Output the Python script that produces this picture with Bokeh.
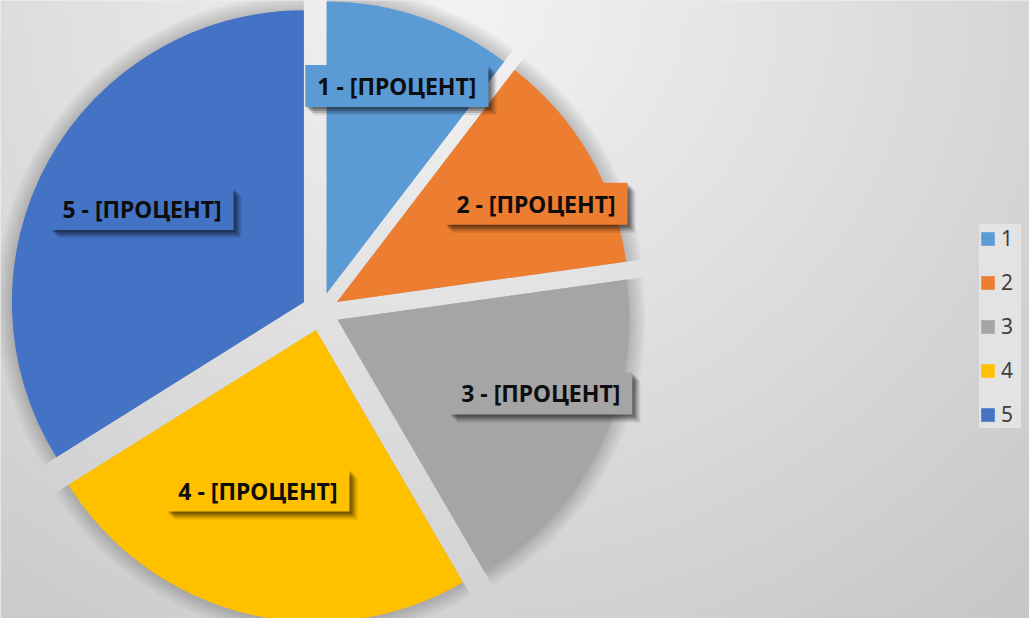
import numpy as np
from bokeh.plotting import figure
from bokeh.models import ColumnDataSource, Label, Legend, LegendItem, Range1d
from bokeh.embed import file_html
from bokeh.resources import INLINE

# ---- data ----
categories = ["1", "2", "3", "4", "5"]
values = [10.4, 12.4, 18.8, 24.5, 33.9]
colors = ["#5B9BD5", "#ED7D31", "#A5A5A5", "#FFC000", "#4472C4"]
label_texts = [f"{c} - [ПРОЦЕНТ]" for c in categories]

# ---- layout / style parameters ----
W, H = 1029, 618
REF_H = 618
PIE_CX, PIE_CY_REF, PIE_R, EXPLODE = 320, 311, 292, 19
label_r_frac = [0.75, 0.76, 0.74, 0.585, 0.64]
label_theta_shift = [0, 4, -6, 6, 1]
LABEL_FONT = "Noto Sans"
LABEL_SIZE = "23px"
LABEL_PAD = (12, 5)
SHADOW_STEPS = [(8, 0.10), (6, 0.16), (4, 0.22), (2, 0.22)]


def up(yref):
    return REF_H - yref


p = figure(width=W, height=H, x_range=Range1d(0, W),
           y_range=Range1d(0, H),
           x_axis_type=None, y_axis_type=None,
           output_backend="svg", toolbar_location=None, min_border=0)
p.grid.visible = False
p.outline_line_color = None
p.background_fill_color = "#dedede"
p.border_fill_color = "#dedede"

# ---- background radial gradient ----
xs = np.arange(W) + 0.5
yup = np.arange(H) + 0.5
X, Yup = np.meshgrid(xs, yup)
Yref = REF_H - Yup
t = np.sqrt(((X - 450) / 890.0) ** 2 + (Yref / 835.0) ** 2)
t = np.clip(t, 0, 1.1)
v = np.clip(244 - 46 * t, 0, 255).astype(np.uint32)
img = (255 << 24) | (v << 16) | (v << 8) | v
p.image_rgba(image=[img.astype(np.uint32)], x=0, y=0, dw=W, dh=H)

# ---- pie geometry from values ----
vals = np.array(values, dtype=float)
frac = vals / vals.sum()
ends = np.cumsum(frac) * 360.0
starts = ends - frac * 360.0
mids = (starts + ends) / 2.0
cy = up(PIE_CY_REF)
wx = PIE_CX + EXPLODE * np.sin(np.radians(mids))
wy = cy + EXPLODE * np.cos(np.radians(mids))
sa = np.pi / 2 - np.radians(starts)
ea = np.pi / 2 - np.radians(ends)

src = ColumnDataSource(dict(x=wx, y=wy, sa=sa, ea=ea, color=colors, cat=categories))

# soft shadow halo
for k in range(1, 9):
    p.wedge(x="x", y="y", radius=PIE_R + 2 * k, start_angle="sa", end_angle="ea",
            direction="clock", source=src, fill_color="black", fill_alpha=0.022,
            line_color=None)

pie = p.wedge(x="x", y="y", radius=PIE_R, start_angle="sa", end_angle="ea",
              direction="clock", source=src, fill_color="color", line_color=None)

# ---- data labels ----
for i in range(len(values)):
    th = np.radians(mids[i] + label_theta_shift[i])
    rr = label_r_frac[i] * PIE_R
    lx = wx[i] + rr * np.sin(th)
    ly = wy[i] + rr * np.cos(th)
    for (o, a) in SHADOW_STEPS:
        p.add_layout(Label(x=lx + o, y=ly - o, text=label_texts[i],
                           text_align="center", text_baseline="middle",
                           text_font=LABEL_FONT, text_font_style="bold",
                           text_font_size=LABEL_SIZE,
                           text_color="black", text_alpha=a,
                           background_fill_color="black", background_fill_alpha=a,
                           padding=LABEL_PAD))
    p.add_layout(Label(x=lx, y=ly, text=label_texts[i],
                       text_align="center", text_baseline="middle",
                       text_font=LABEL_FONT, text_font_style="bold",
                       text_font_size=LABEL_SIZE, text_color="#0d0d0d",
                       background_fill_color=colors[i], background_fill_alpha=1,
                       padding=LABEL_PAD))

# ---- legend ----
items = [LegendItem(label=categories[i], renderers=[pie], index=i) for i in range(len(values))]
legend = Legend(items=items, location=(979, 190), orientation="vertical",
                padding=12, margin=0, spacing=16, label_height=20,
                glyph_width=17, glyph_height=17, label_standoff=5,
                label_text_font="Noto Sans", label_text_font_size="21px",
                label_text_color="#404040",
                background_fill_color="#e3e3e3", background_fill_alpha=1,
                border_line_color=None)
p.add_layout(legend)

open("out.html", "w").write(file_html(p, INLINE))
